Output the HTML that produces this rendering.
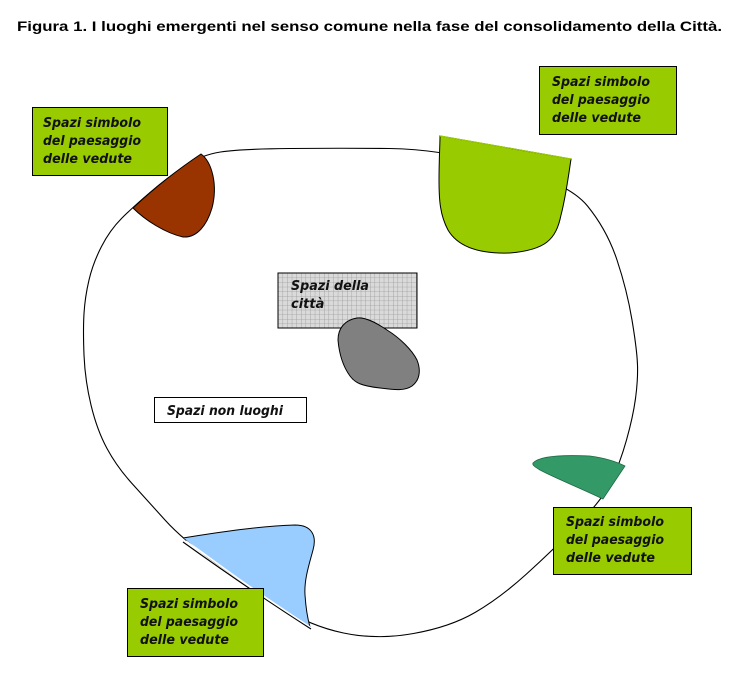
<!DOCTYPE html>
<html>
<head>
<meta charset="utf-8">
<style>
  html, body { margin:0; padding:0; background:#fff; }
  body { width:739px; height:687px; overflow:hidden; }
  svg { display:block; }
  .lbl { font-family:"DejaVu Sans", "Liberation Sans", sans-serif; font-style:italic; font-weight:bold; font-size:13px; fill:#111; }
</style>
</head>
<body>
<svg width="739" height="687" viewBox="0 0 739 687" xmlns="http://www.w3.org/2000/svg">
  <defs>
    <pattern id="grid" width="4.6" height="4.6" patternUnits="userSpaceOnUse" x="278" y="273">
      <rect width="4.6" height="4.6" fill="#dadada"/>
      <path d="M0,0 H4.6 M0,0 V4.6" stroke="#9a9a9a" stroke-width="0.8" fill="none"/>
    </pattern>
  </defs>

  <rect width="739" height="687" fill="#fff"/>

  <!-- Title -->
  <text x="17" y="31" font-family="'Liberation Sans', Arial, sans-serif" font-weight="bold" font-size="14" fill="#000" textLength="705" lengthAdjust="spacingAndGlyphs">Figura 1. I luoghi emergenti nel senso comune nella fase del consolidamento della Città.</text>

  <!-- Big loop -->
  <path d="M290,148.5 Q340,148 389.5,148.5 Q439,149 503.5,165.5 Q568,182 587.5,206 Q607,230 617,260 Q627,290 632,320 Q637,350 637.5,365 Q638,380 635.5,398.5 Q633,417 626.5,440 Q620,463 611.5,481 Q603,499 578,524.5 Q553,550 526.5,574 Q500,598 475,612.5 Q450,627 413.5,633.5 Q377,640 343.5,633 Q310,626 280,606.5 Q250,587 216.5,563.5 Q183,540 165,520 Q147,500 132,483.5 Q117,467 107,448.5 Q97,430 91,405 Q85,380 84,355 Q83,330 84,313.5 Q85,297 89,280 Q93,263 101.5,246.5 Q110,230 121.5,218.5 Q133,207 150,192.5 Q167,178 184,166.5 Q201,155 220.5,152 Q240,149 290,148.5 Z" fill="none" stroke="#000" stroke-width="1.1"/>

  <!-- Brown shape -->
  <path d="M133,208 Q165,178 201,154 C212,162 218,185 212,208 C207,225 197,238 183,237 C165,233 145,220 133,208 Z" fill="#993300" stroke="#000" stroke-width="1"/>

  <!-- Light green cup -->
  <path d="M440,136 L571,159 C568,180 565,200 561,215 C556,240 545,250 510,253 C480,254 458,247 448,230 C440,215 439,200 439,180 C439,160 440,145 440,136 Z" fill="#99cc00" stroke="#000" stroke-width="1"/>
  <path d="M440,136 L571,159" stroke="#99cc00" stroke-width="1.2"/>

  <!-- Dark green shape -->
  <path d="M533,463 C540,455 570,455 590,456 C605,458 615,461 625,466 L603,499 C580,488 555,478 540,470 C535,467 532,465 533,463 Z" fill="#339966" stroke="#1d6b45" stroke-width="0.8"/>

  <!-- Light blue shape -->
  <path d="M183,538 C220,532 260,526 295,525 C312,525 317,536 313,550 C309,565 304,580 305,595 C306,610 308,620 310,627 C280,609 232,573 185,539 Z" fill="#99ccff" stroke="none"/>
  <path d="M183,538 C220,532 260,526 295,525 C312,525 317,536 313,550 C309,565 304,580 305,595 C306,610 308,620 310,627" fill="none" stroke="#000" stroke-width="1"/>
  <path d="M186,541 Q250,588 310,627" fill="none" stroke="#fff" stroke-width="1.5"/>
  <path d="M183,542 Q250,590 311,629" fill="none" stroke="#000" stroke-width="1.1"/>

  <!-- Grid box: Spazi della città -->
  <rect x="278" y="273" width="139" height="55" fill="url(#grid)" stroke="#000" stroke-width="1"/>
  <text class="lbl" x="291" y="290" textLength="78" lengthAdjust="spacingAndGlyphs">Spazi della</text>
  <text class="lbl" x="291" y="308">città</text>

  <!-- Grey blob -->
  <path d="M357,318 C345,320 338,328 338,340 C339,352 342,365 350,376 C355,383 362,386 380,388 C395,390 405,391 412,386 C420,380 421,370 417,360 C412,350 400,338 387,330 C375,322 365,317 357,318 Z" fill="#808080" stroke="#000" stroke-width="1"/>

  <!-- Spazi non luoghi -->
  <rect x="154.5" y="397.5" width="152" height="25" fill="#fff" stroke="#000" stroke-width="1"/>
  <text class="lbl" x="167" y="415" textLength="116" lengthAdjust="spacingAndGlyphs">Spazi non luoghi</text>

  <!-- Green label boxes -->
  <g>
    <rect x="32.5" y="107.5" width="135" height="68" fill="#99cc00" stroke="#000" stroke-width="1"/>
    <text class="lbl" x="43" y="127" textLength="98" lengthAdjust="spacingAndGlyphs">Spazi simbolo</text>
    <text class="lbl" x="43" y="145" textLength="98" lengthAdjust="spacingAndGlyphs">del paesaggio</text>
    <text class="lbl" x="43" y="163" textLength="89" lengthAdjust="spacingAndGlyphs">delle vedute</text>
  </g>
  <g>
    <rect x="539.5" y="66.5" width="137" height="68" fill="#99cc00" stroke="#000" stroke-width="1"/>
    <text class="lbl" x="552" y="86" textLength="98" lengthAdjust="spacingAndGlyphs">Spazi simbolo</text>
    <text class="lbl" x="552" y="104" textLength="98" lengthAdjust="spacingAndGlyphs">del paesaggio</text>
    <text class="lbl" x="552" y="122" textLength="89" lengthAdjust="spacingAndGlyphs">delle vedute</text>
  </g>
  <g>
    <rect x="553.5" y="507.5" width="138" height="67" fill="#99cc00" stroke="#000" stroke-width="1"/>
    <text class="lbl" x="566" y="526" textLength="98" lengthAdjust="spacingAndGlyphs">Spazi simbolo</text>
    <text class="lbl" x="566" y="544" textLength="98" lengthAdjust="spacingAndGlyphs">del paesaggio</text>
    <text class="lbl" x="566" y="562" textLength="89" lengthAdjust="spacingAndGlyphs">delle vedute</text>
  </g>
  <g>
    <rect x="127.5" y="588.5" width="136" height="68" fill="#99cc00" stroke="#000" stroke-width="1"/>
    <text class="lbl" x="140" y="608" textLength="98" lengthAdjust="spacingAndGlyphs">Spazi simbolo</text>
    <text class="lbl" x="140" y="626" textLength="98" lengthAdjust="spacingAndGlyphs">del paesaggio</text>
    <text class="lbl" x="140" y="644" textLength="89" lengthAdjust="spacingAndGlyphs">delle vedute</text>
  </g>
</svg>
</body>
</html>
